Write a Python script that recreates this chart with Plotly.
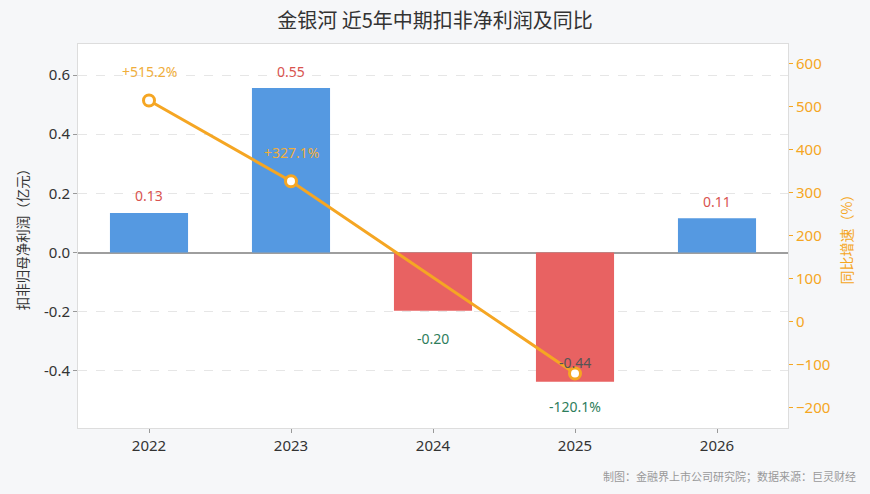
import plotly.graph_objects as go

years = [2022, 2023, 2024, 2025, 2026]
year_labels = ["2022", "2023", "2024", "2025", "2026"]
profit = [0.134, 0.556, -0.197, -0.437, 0.116]
profit_labels = ["0.13", "0.55", "-0.20", "-0.44", "0.11"]
growth = [515.2, 327.1, None, -120.1, None]
growth_labels = ["+515.2%", "+327.1%", None, "-120.1%", None]

FONT = "Noto Sans, Noto Sans CJK SC, sans-serif"
CJK = "Noto Sans CJK SC, Noto Sans, sans-serif"
BLUE = "#5599E1"
RED = "#E86262"
ORANGE = "#F5A623"
POS_TXT = "#D9534F"
NEG_TXT = "#2E7D5B"

bar_colors = [BLUE if v >= 0 else RED for v in profit]

fig = go.Figure()
fig.add_trace(go.Bar(
    x=years, y=profit, marker=dict(color=bar_colors, line=dict(width=0)),
    width=0.55, yaxis="y", showlegend=False, hoverinfo="skip",
))
fig.add_trace(go.Scatter(
    x=years, y=growth, yaxis="y2", mode="lines+markers", connectgaps=True,
    line=dict(color=ORANGE, width=3),
    marker=dict(size=11, color="white", line=dict(color=ORANGE, width=3)),
    showlegend=False, hoverinfo="skip",
))

annotations = []
for i, (x, v, t) in enumerate(zip(years, profit, profit_labels)):
    if i == 3:
        annotations.append(dict(x=x, y=v, xref="x", yref="y", text=t, showarrow=False,
                                yshift=19, font=dict(size=14, color="#555555", family=FONT)))
    else:
        annotations.append(dict(x=x, y=v, xref="x", yref="y", text=t, showarrow=False,
                                yshift=17 if v >= 0 else -28,
                                font=dict(size=14, color=POS_TXT if v >= 0 else NEG_TXT, family=FONT)))
for x, g, t in zip(years, growth, growth_labels):
    if g is None:
        continue
    annotations.append(dict(x=x, y=g, xref="x", yref="y2", text=t, showarrow=False,
                            yshift=29 if g >= 0 else -33,
                            font=dict(size=14, color="#F0AE3C" if g >= 0 else NEG_TXT, family=FONT)))

annotations.append(dict(x=1, xref="paper", xanchor="right", xshift=70,
                        y=-(476 - 428) / (494 - 44 - 66), yref="paper", yanchor="middle",
                        text="制图：金融界上市公司研究院；数据来源：巨灵财经",
                        showarrow=False, font=dict(size=11, color="#999999", family=CJK)))

fig.update_layout(
    width=870, height=494,
    margin=dict(l=78, r=82, t=44, b=66),
    paper_bgcolor="#F6F7F9", plot_bgcolor="white",
    font=dict(family=FONT, color="#333333"),
    title=dict(text="金银河 近5年中期扣非净利润及同比", x=0.5, xanchor="center",
               y=1 - 21 / 494, yanchor="middle", font=dict(size=20, color="#333333", family=CJK)),
    xaxis=dict(range=[2021.5, 2026.5], tickvals=years, ticktext=year_labels,
               showline=True, linecolor="#DDDDDD", linewidth=1, mirror=True,
               ticks="outside", ticklen=4, tickcolor="#999999",
               tickfont=dict(size=15, color="#333333"), showgrid=False, zeroline=False),
    yaxis=dict(range=[-0.593, 0.705], tickvals=[-0.4, -0.2, 0.0, 0.2, 0.4, 0.6],
               ticktext=["-0.4", "-0.2", "0.0", "0.2", "0.4", "0.6"],
               showline=True, linecolor="#DDDDDD", linewidth=1, mirror=True,
               ticks="outside", ticklen=4, tickcolor="#999999",
               tickfont=dict(size=15, color="#333333"),
               showgrid=True, gridcolor="#E6E6E6", griddash="dash", gridwidth=1,
               zeroline=True, zerolinecolor="#9E9E9E", zerolinewidth=1.5,
               title=dict(text="扣非归母净利润（亿元）", font=dict(size=13.5, color="#333333", family=CJK),
                          standoff=12)),
    yaxis2=dict(overlaying="y", side="right", range=[-247, 646.5],
                tickvals=[-200, -100, 0, 100, 200, 300, 400, 500, 600],
                showgrid=False, zeroline=False, showline=False,
                ticks="outside", ticklen=4, tickcolor=ORANGE,
                tickfont=dict(size=15, color=ORANGE),
                title=dict(text="同比增速（%）", font=dict(size=14, color=ORANGE, family=CJK), standoff=12)),
    annotations=annotations,
)

fig.write_html("out.html", config={"displayModeBar": False},
               post_script="document.body.style.margin='0';document.body.style.background='#F6F7F9';")
